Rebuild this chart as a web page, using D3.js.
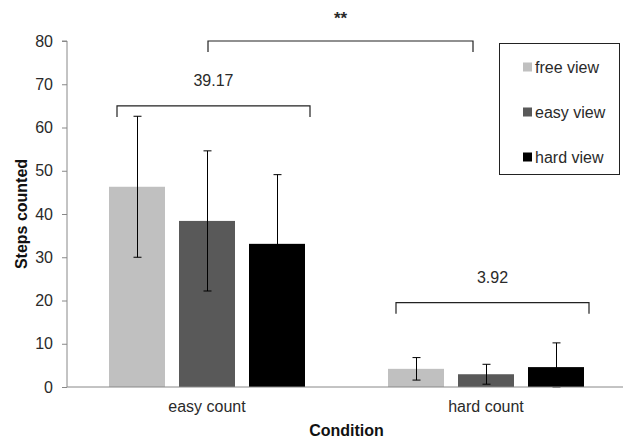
<!DOCTYPE html>
<html><head><meta charset="utf-8">
<script src="https://cdn.jsdelivr.net/npm/d3@7"></script>
<style>body{margin:0;background:#fff;} text{font-family:"Liberation Sans",Arial,sans-serif;}</style>
</head><body>
<svg id="c" width="623" height="442"></svg>
<script>
const categories = ["easy count", "hard count"];
const seriesNames = ["free view", "easy view", "hard view"];
const seriesColors = ["#c0c0c0", "#595959", "#000000"];
const means = [[46.3, 38.4, 33.1], [4.2, 2.95, 4.6]];
const errors = [[16.3, 16.2, 16.0], [2.6, 2.3, 5.6]];
const yTicks = [0, 10, 20, 30, 40, 50, 60, 70, 80];
const groupLabels = ["39.17", "3.92"];
const groupBracketY = [65, 19.5];
const topLabel = "**";
const topBracketY = 80;

const svg = d3.select("#c");
const x0 = d3.scaleBand().domain(categories).range([67.5, 625.5]);
const y = d3.scaleLinear().domain([0, 80]).range([387, 41]);
const barW = 56, gap = 14;
const barX = (ci, si) => x0(categories[ci]) + x0.bandwidth()/2 + (si - 1) * (barW + gap) - barW/2;
const txt = "#2a2a2a";
const fs = 16;

// y axis
const ya = svg.append("g").attr("transform", "translate(67,0)")
  .call(d3.axisLeft(y).tickValues(yTicks).tickSize(5).tickPadding(9));
ya.select(".domain").attr("stroke", "#888").attr("d", `M-5,${y(80)}H0V${y(0)}`);
ya.selectAll(".tick line").attr("stroke", "#888");
ya.selectAll(".tick text").attr("font-size", fs).attr("fill", txt).style("font-family", "Liberation Sans, Arial, sans-serif");

// bars
categories.forEach((c, ci) => {
  seriesNames.forEach((s, si) => {
    svg.append("rect").attr("x", barX(ci, si)).attr("y", y(means[ci][si]))
      .attr("width", barW).attr("height", y(0) - y(means[ci][si]))
      .attr("fill", seriesColors[si]);
  });
});
// error bars
categories.forEach((c, ci) => {
  seriesNames.forEach((s, si) => {
    const cx = barX(ci, si) + barW/2 + 0.5;
    const t = y(means[ci][si] + errors[ci][si]), b = y(Math.max(0, means[ci][si] - errors[ci][si]));
    const g = svg.append("g").attr("stroke", "#000").attr("stroke-width", 1);
    g.append("line").attr("x1", cx).attr("x2", cx).attr("y1", t).attr("y2", b);
    g.append("line").attr("x1", cx-4).attr("x2", cx+4).attr("y1", t).attr("y2", t);
    g.append("line").attr("x1", cx-4).attr("x2", cx+4).attr("y1", b).attr("y2", b);
  });
});

// x axis
svg.append("line").attr("x1", 67).attr("x2", 623).attr("y1", y(0)).attr("y2", y(0)).attr("stroke", "#888");
categories.forEach(c => {
  svg.append("text").attr("x", x0(c) + x0.bandwidth()/2).attr("y", 412).attr("text-anchor", "middle")
    .attr("font-size", fs).attr("fill", txt).text(c);
});
svg.append("text").attr("x", 346.5).attr("y", 436).attr("text-anchor", "middle")
  .attr("font-size", fs).attr("font-weight", "bold").attr("fill", "#111").text("Condition");
svg.append("text").attr("transform", "translate(27,214) rotate(-90)").attr("text-anchor", "middle")
  .attr("font-size", fs).attr("font-weight", "bold").attr("fill", "#111").text("Steps counted");

// brackets
function bracket(x1, x2, yv, drop) {
  const yy = y(yv);
  svg.append("path").attr("d", `M${x1},${yy+drop}V${yy}H${x2}V${yy+drop}`)
    .attr("fill", "none").attr("stroke", "#222").attr("stroke-width", 1.2);
}
categories.forEach((c, ci) => {
  const left = barX(ci, 0) + 8, right = barX(ci, 2) + barW + 5;
  bracket(left, right, groupBracketY[ci], 11);
  svg.append("text").attr("x", (left + right)/2).attr("y", y(groupBracketY[ci]) - 20)
    .attr("text-anchor", "middle").attr("font-size", fs).attr("fill", txt).text(groupLabels[ci]);
});
const tl = x0(categories[0]) + x0.bandwidth()/2 + 1, tr = barX(1, 1) + 15;
bracket(tl, tr, topBracketY, 11);
svg.append("text").attr("x", (tl + tr)/2).attr("y", 24).attr("text-anchor", "middle")
  .attr("font-size", 17).attr("font-weight", "bold").attr("fill", txt).text(topLabel);

// legend
svg.append("rect").attr("x", 499.5).attr("y", 43.5).attr("width", 120).attr("height", 131)
  .attr("fill", "#fff").attr("stroke", "#222");
seriesNames.forEach((s, si) => {
  const cy = 67 + si * 45;
  svg.append("rect").attr("x", 523).attr("y", cy - 4.5).attr("width", 9).attr("height", 9).attr("fill", seriesColors[si]);
  svg.append("text").attr("x", 535).attr("y", cy + 5.5).attr("font-size", fs).attr("fill", txt).text(s);
});
</script>
</body></html>
